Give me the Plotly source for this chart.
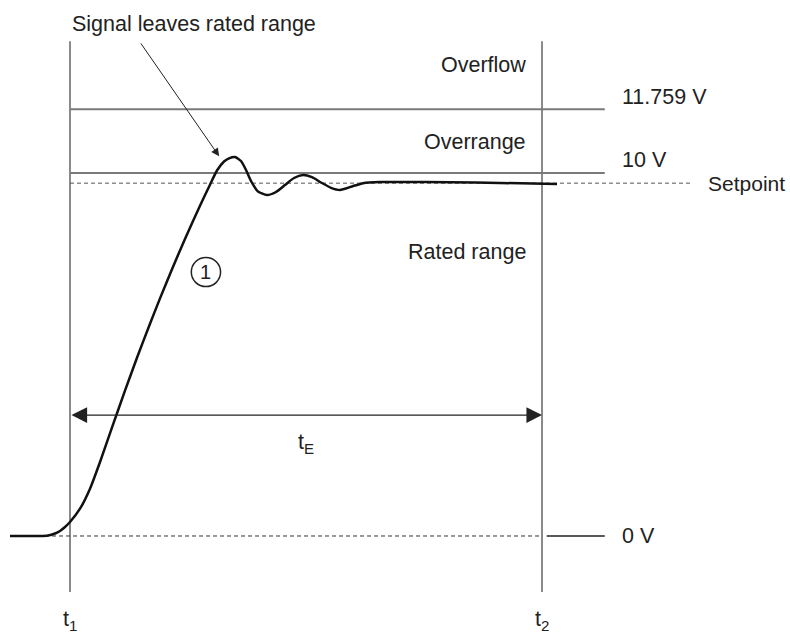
import plotly.graph_objects as go

# Signal curve (time in units where t1=0, t2=10; voltage in V)
t_vals = [-1.271, -0.636, -0.466, -0.318, -0.212, -0.106, 0.0, 0.212, 0.424, 0.636, 0.911, 1.165,
          1.419, 1.695, 1.907, 2.161, 2.436, 2.754, 2.966, 3.114, 3.263, 3.369, 3.496, 3.623,
          3.729, 3.835, 3.983, 4.174, 4.364, 4.555, 4.746, 4.936, 5.127, 5.318, 5.530, 5.720,
          5.975, 6.208, 6.568, 6.992, 8.051, 9.110, 10.318]
v_vals = [0.0, 0.0, 0.014, 0.069, 0.138, 0.248, 0.386, 0.752, 1.303, 2.039, 3.066, 4.003,
          4.909, 5.848, 6.545, 7.350, 8.185, 9.099, 9.678, 10.069, 10.317, 10.405, 10.441, 10.331,
          10.083, 9.780, 9.490, 9.394, 9.477, 9.669, 9.862, 9.945, 9.884, 9.738, 9.592, 9.532,
          9.628, 9.719, 9.752, 9.752, 9.744, 9.725, 9.697]

t1, t2 = 0.0, 10.0
overflow_limit = 11.759
rated_limit = 10.0
setpoint = 9.72
zero_v = 0.0

level_labels = ["11.759 V", "10 V", "Setpoint", "0 V"]
region_labels = ["Overflow", "Overrange", "Rated range"]

FONT = "Liberation Sans, Arial, sans-serif"
FS = 21.5
GREY = "#7a7a7a"
DASH = "#555555"

fig = go.Figure()

# vertical time lines
for t in (t1, t2):
    fig.add_trace(go.Scatter(x=[t, t], y=[-1.54, 13.63], mode="lines",
                             line=dict(color="#8a8a8a", width=2), hoverinfo="skip", showlegend=False))

# limit lines
for lvl in (overflow_limit, rated_limit):
    fig.add_trace(go.Scatter(x=[t1, 11.33], y=[lvl, lvl], mode="lines",
                             line=dict(color=GREY, width=2), hoverinfo="skip", showlegend=False))

# setpoint dashed
fig.add_trace(go.Scatter(x=[t1, 13.14], y=[setpoint, setpoint], mode="lines",
                         line=dict(color=DASH, width=1, dash="4px,3px"), hoverinfo="skip", showlegend=False))
# zero dashed + solid
fig.add_trace(go.Scatter(x=[-1.27, t2], y=[zero_v, zero_v], mode="lines",
                         line=dict(color="#333333", width=1, dash="4px,3px"), hoverinfo="skip", showlegend=False))
fig.add_trace(go.Scatter(x=[10.1, 11.33], y=[zero_v, zero_v], mode="lines",
                         line=dict(color="#222222", width=1.3), hoverinfo="skip", showlegend=False))

# signal
fig.add_trace(go.Scatter(x=t_vals, y=v_vals, mode="lines",
                         line=dict(color="#111111", width=2.5, shape="spline", smoothing=0.6),
                         hoverinfo="skip", showlegend=False))

ann = []
txt = dict(family=FONT, size=FS, color="#222222")
ann.append(dict(x=t1, y=14.1, text="Signal leaves rated range", showarrow=False,
                xanchor="left", yanchor="middle", font=txt))
ann.append(dict(x=3.16, y=10.46, ax=1.48, ay=13.61, xref="x", yref="y", axref="x", ayref="y",
                showarrow=True, arrowhead=2, arrowsize=1.6, arrowwidth=1, arrowcolor="#222222", text=""))
for lab, y in zip(region_labels, [12.98, 10.85, 7.82]):
    ann.append(dict(x=9.70, y=y, text=lab, showarrow=False, xanchor="right", yanchor="middle", font=txt))
for lab, x, y, fs in zip(level_labels, [11.65, 11.65, 13.48, 11.65], [12.09, 10.36, setpoint, zero_v],
                         [FS, FS, 21, FS]):
    ann.append(dict(x=x, y=y, text=lab, showarrow=False, xanchor="left", yanchor="middle",
                    font=dict(family=FONT, size=fs, color="#222222")))
# t_E double arrow
ann.append(dict(x=t2, y=3.33, ax=t1, ay=3.33, xref="x", yref="y", axref="x", ayref="y",
                showarrow=True, arrowhead=2, arrowsize=2.4, startarrowhead=2, startarrowsize=2.4,
                arrowwidth=1.3, arrowside="end+start", arrowcolor="#222222", text=""))
ann.append(dict(x=5.0, y=2.55, text="t<sub>E</sub>", showarrow=False, font=txt))
ann.append(dict(x=t1, y=-2.33, text="t<sub>1</sub>", showarrow=False, font=txt))
ann.append(dict(x=t2, y=-2.33, text="t<sub>2</sub>", showarrow=False, font=txt))
ann.append(dict(x=2.88, y=7.27, text="1", showarrow=False, font=dict(family=FONT, size=20, color="#222222")))

fig.add_shape(type="circle", xref="x", yref="y", x0=2.88 - 0.31, x1=2.88 + 0.31, y0=7.27 - 0.40, y1=7.27 + 0.40,
              line=dict(color="#222222", width=1.5))

fig.update_layout(
    width=790, height=634, margin=dict(l=0, r=0, t=0, b=0),
    paper_bgcolor="white", plot_bgcolor="white", annotations=ann,
    xaxis=dict(range=[-1.483, 15.254], visible=False, fixedrange=True),
    yaxis=dict(range=[-2.70, 14.766], visible=False, fixedrange=True),
)

fig.write_html("out.html", config={"displayModeBar": False},
               post_script="document.body.style.margin='0px';")
